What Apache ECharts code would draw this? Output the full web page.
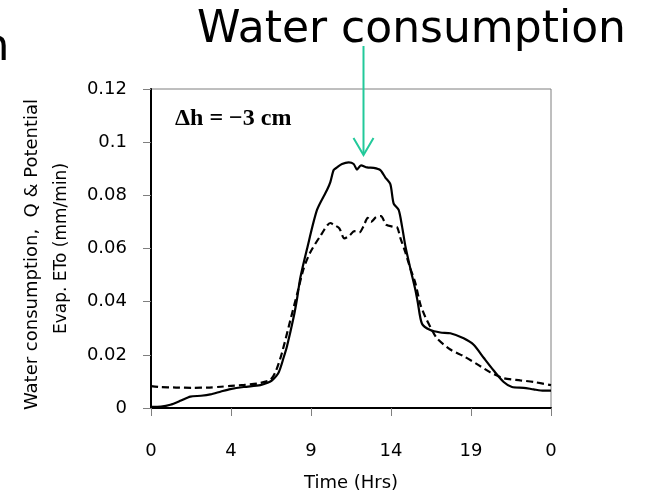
<!DOCTYPE html>
<html>
<head>
<meta charset="utf-8">
<script src="https://cdn.jsdelivr.net/npm/echarts@6/dist/echarts.min.js"></script>
<style>
html,body{margin:0;padding:0;background:#fff;}
#chart{width:645px;height:497px;}
</style>
</head>
<body>
<div id="chart"></div>
<script>
// Time of day (hours) and values for water consumption Q (solid)
var qHours = [0, 0.6, 1.16, 1.8, 2.36, 3.0, 3.56, 4.2, 4.76, 5.56, 6.56, 7.0, 7.26, 7.66, 7.96, 8.16, 8.56, 8.76, 8.96, 9.36, 9.96, 10.56, 10.76, 10.96, 11.16, 11.46, 11.86, 12.16, 12.36, 12.6, 12.96, 13.36, 13.76, 14.06, 14.36, 14.56, 14.86, 15.06, 15.26, 15.56, 15.86, 16.0, 16.26, 16.76, 17.36, 17.96, 18.76, 19.36, 19.96, 20.56, 21.16, 21.66, 22.36, 22.96, 23.56, 24];
var qValues = [0.0004, 0.0005, 0.0012, 0.0028, 0.0043, 0.0046, 0.0051, 0.0062, 0.0071, 0.0079, 0.0086, 0.0095, 0.0104, 0.0134, 0.019, 0.0232, 0.0342, 0.041, 0.049, 0.0598, 0.0745, 0.082, 0.085, 0.0895, 0.0905, 0.0918, 0.0924, 0.0918, 0.0897, 0.0913, 0.0905, 0.0903, 0.0895, 0.0867, 0.0842, 0.0769, 0.0745, 0.0684, 0.061, 0.0525, 0.0445, 0.040, 0.0317, 0.0293, 0.0284, 0.0281, 0.0262, 0.0238, 0.0189, 0.0141, 0.0098, 0.0079, 0.0076, 0.007, 0.0065, 0.0065];
// Potential evaporation ETo (dashed)
var etoHours = [0, 0.5, 1.5, 2.5, 3.5, 4.2, 4.8, 5.6, 6.4, 7.16, 7.5, 7.86, 8.36, 8.76, 9.16, 9.56, 10.16, 10.76, 11.0, 11.3, 11.6, 11.9, 12.2, 12.5, 12.76, 13.0, 13.2, 13.5, 13.8, 14.1, 14.5, 14.76, 14.96, 15.26, 15.56, 15.86, 16.16, 16.46, 16.76, 17.16, 17.96, 18.76, 19.56, 20.36, 21.16, 22.16, 22.96, 24];
var etoValues = [0.0082, 0.0079, 0.0077, 0.0076, 0.0077, 0.0080, 0.0083, 0.0087, 0.0092, 0.0106, 0.014, 0.0208, 0.033, 0.0427, 0.0525, 0.0586, 0.0647, 0.0696, 0.0688, 0.0676, 0.0638, 0.0648, 0.0665, 0.066, 0.0685, 0.0715, 0.07, 0.0718, 0.0722, 0.069, 0.0682, 0.068, 0.064, 0.0586, 0.0525, 0.047, 0.039, 0.0342, 0.0305, 0.0262, 0.022, 0.0195, 0.0165, 0.0134, 0.0112, 0.0104, 0.0098, 0.0086];
// Tick labels
var xTickLabels = ['0', '4', '9', '14', '19', '0'];
var yTickLabels = ['0', '0.02', '0.04', '0.06', '0.08', '0.1', '0.12'];

var xStep = 4.8, yStep = 0.02;
function pairs(xs, ys) { return xs.map(function (x, i) { return [x, ys[i]]; }); }

var chart = echarts.init(document.getElementById('chart'), null, {renderer: 'canvas'});
var F = 'DejaVu Sans';
var green = '#22c99a';
chart.setOption({
  animation: false,
  backgroundColor: '#fff',
  grid: {left: 151, right: 94, top: 89, bottom: 80, show: true, borderColor: '#7f7f7f', borderWidth: 1, backgroundColor: 'transparent'},
  xAxis: {
    type: 'value', min: 0, max: 24, interval: xStep,
    name: 'Time (Hrs)', nameLocation: 'middle', nameGap: 66,
    nameTextStyle: {fontFamily: F, fontSize: 18, color: '#000'},
    axisLine: {show: true, onZero: false, lineStyle: {color: '#000', width: 2}},
    axisTick: {show: true, inside: false, length: 8, lineStyle: {color: '#7f7f7f', width: 1}},
    axisLabel: {margin: 34, fontFamily: F, fontSize: 18, color: '#000',
      formatter: function (v) { return xTickLabels[Math.round(v / xStep)]; }},
    splitLine: {show: false}
  },
  yAxis: {
    type: 'value', min: 0, max: 0.12, interval: yStep,
    axisLine: {show: true, lineStyle: {color: '#000', width: 2}},
    axisTick: {show: true, inside: false, length: 8, lineStyle: {color: '#7f7f7f', width: 1}},
    axisLabel: {margin: 24, fontFamily: F, fontSize: 18, color: '#000',
      formatter: function (v) { return yTickLabels[Math.round(v / yStep)]; }},
    splitLine: {show: false}
  },
  series: [
    {type: 'line', name: 'Q', data: pairs(qHours, qValues), showSymbol: false, smooth: 0.25,
     lineStyle: {color: '#000', width: 2.2}, z: 3},
    {type: 'line', name: 'ETo', data: pairs(etoHours, etoValues), showSymbol: false, smooth: 0.25,
     lineStyle: {color: '#000', width: 2.2, type: [7, 4]}, z: 2}
  ],
  graphic: [
    {type: 'text', left: 197, top: 9, z: 10,
     style: {text: 'Water consumption', font: '44px "DejaVu Sans"', fill: '#000'}},
    {type: 'text', x: -19, y: 48, z: 10,
     style: {text: 'n', font: '45px "DejaVu Sans"', fill: '#000', textVerticalAlign: 'middle'}},
    {type: 'text', x: 175, y: 119, z: 10,
     style: {text: 'Δh = −3 cm', font: 'bold 24px "Liberation Serif"', fill: '#000', textVerticalAlign: 'middle'}},
    {type: 'text', x: 32, y: 254.5, rotation: Math.PI / 2, z: 10,
     style: {text: 'Water consumption,  Q & Potential', font: '18px "DejaVu Sans"', fill: '#000', textAlign: 'center', textVerticalAlign: 'middle'}},
    {type: 'text', x: 62, y: 248.5, rotation: Math.PI / 2, z: 10,
     style: {text: 'Evap. ETo (mm/min)', font: '17px "DejaVu Sans"', fill: '#000', textAlign: 'center', textVerticalAlign: 'middle'}},
    {type: 'line', z: 20, shape: {x1: 363.5, y1: 46, x2: 363.5, y2: 154},
     style: {stroke: green, lineWidth: 2}},
    {type: 'polyline', z: 20, shape: {points: [[353.5, 138], [363.5, 155], [373.5, 138]]},
     style: {stroke: green, lineWidth: 2, fill: null}}
  ]
});
</script>
</body>
</html>
